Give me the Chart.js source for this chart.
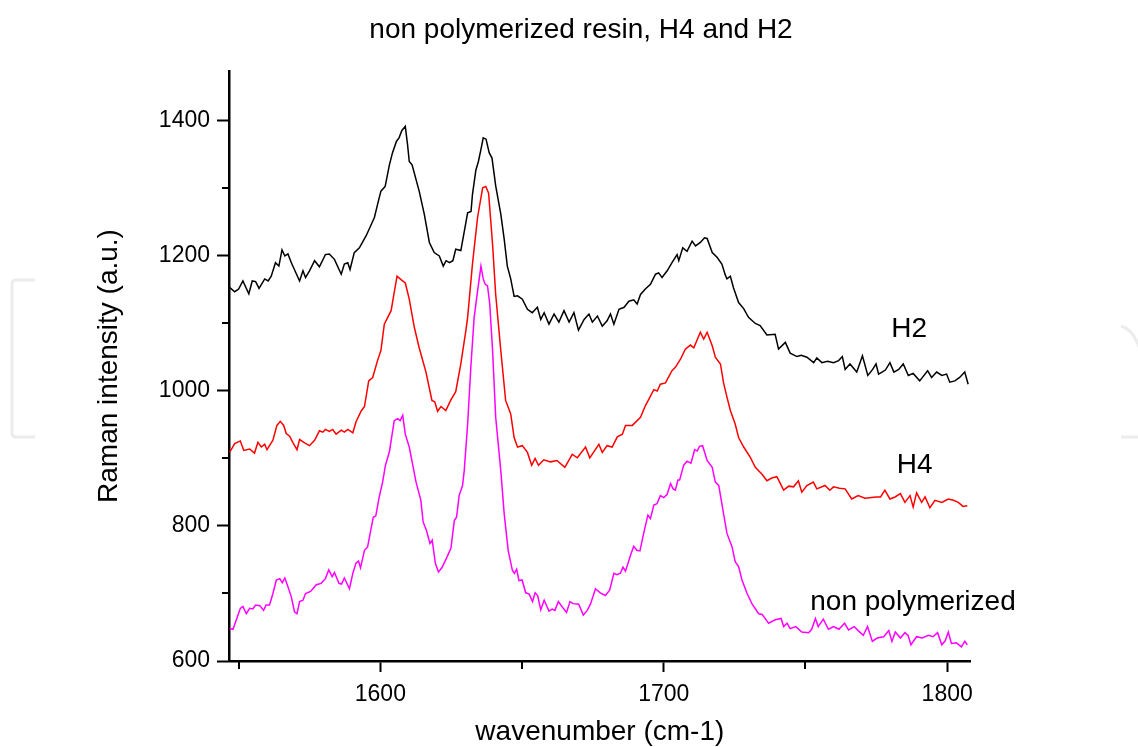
<!DOCTYPE html>
<html><head><meta charset="utf-8">
<script src="https://cdn.jsdelivr.net/npm/chart.js@4.4.1/dist/chart.umd.min.js"></script>
<style>html,body{margin:0;padding:0;background:#fff;}canvas{display:block;}</style>
</head><body>
<canvas id="c" width="1138" height="747"></canvas>
<script>
const chartTitle = 'non polymerized resin, H4 and H2';
const xAxisTitle = 'wavenumber (cm-1)';
const yAxisTitle = 'Raman intensity (a.u.)';
const seriesNames = ['H2', 'H4', 'non polymerized'];
const xMajorTicks = [1600, 1700, 1800];
const xMinorTicks = [1550, 1650, 1750];
const yMajorTicks = [600, 800, 1000, 1200, 1400];
const yMinorTicks = [700, 900, 1100, 1300];

// [wavenumber, intensity]
const h2Spectrum = [[1546.9,1153],[1548.6,1147],[1550,1151],[1551.5,1163],[1553.6,1144],[1554.8,1163],[1556,1162],[1557.2,1152],[1559.2,1166],[1560.4,1163],[1561.5,1170],[1563,1190],[1564.2,1185],[1565.3,1209],[1566.3,1200],[1567.4,1203],[1568.6,1190],[1571.5,1163],[1572.7,1178],[1573.6,1168],[1575,1178],[1576.8,1193],[1578.5,1184],[1580.6,1202],[1582,1203],[1583.8,1195],[1586.2,1173],[1587.3,1188],[1588.5,1190],[1589.3,1180],[1590.8,1205],[1592.6,1212],[1595,1230],[1597.9,1257],[1599,1276],[1600.2,1296],[1601.7,1303],[1603.2,1335],[1604.3,1353],[1605.7,1370],[1606.6,1375],[1607.6,1386],[1608.8,1392],[1609.6,1365],[1610.2,1340],[1611.2,1335],[1613.7,1296],[1615.5,1262],[1617.3,1220],[1619,1205],[1620.8,1200],[1622.2,1185],[1623.2,1193],[1624.4,1190],[1625.6,1193],[1626.6,1210],[1628.4,1208],[1630.8,1264],[1632,1266],[1632.5,1291],[1633.7,1327],[1634.6,1340],[1635.5,1358],[1636.3,1375],[1637.3,1373],[1638.4,1353],[1639.4,1345],[1640.7,1304],[1642.5,1262],[1643.7,1225],[1644.8,1185],[1646,1166],[1647.2,1140],[1648.4,1141],[1650.1,1136],[1651.9,1121],[1653.6,1116],[1655.4,1124],[1656.6,1106],[1657.8,1116],[1659.5,1099],[1661.3,1114],[1663,1102],[1664.8,1119],[1666.6,1102],[1668.3,1116],[1669.9,1090],[1671.9,1106],[1673.6,1114],[1674.8,1102],[1676.6,1111],[1678.3,1096],[1680,1104],[1681.2,1114],[1682.4,1099],[1684.2,1121],[1686,1124],[1687.7,1133],[1689.4,1135],[1690.6,1129],[1691.8,1143],[1693.5,1151],[1695.3,1158],[1697.1,1173],[1698.2,1175],[1699.4,1168],[1701.2,1178],[1702.9,1190],[1704.7,1202],[1705.3,1193],[1706.7,1212],[1708.2,1207],[1710,1222],[1711.2,1215],[1712.9,1220],[1714.4,1227],[1715.3,1226],[1717.1,1205],[1718.8,1198],[1720.5,1188],[1721.7,1172],[1722.3,1166],[1723.5,1170],[1724.6,1153],[1726.4,1131],[1728.2,1122],[1729.9,1109],[1732.3,1100],[1734,1097],[1736.4,1083],[1739.3,1084],[1740.5,1062],[1742.9,1072],[1744.6,1056],[1747,1051],[1748.5,1053],[1750.5,1050],[1752.9,1042],[1754,1049],[1755.8,1042],[1757.8,1044],[1759.9,1042],[1761.7,1045],[1763,1051],[1764,1032],[1765.7,1040],[1768.1,1028],[1770.1,1052],[1772,1023],[1773.7,1032],[1774.9,1040],[1775.8,1025],[1777,1028],[1778.2,1031],[1779.8,1042],[1781.2,1028],[1782.9,1032],[1784.5,1040],[1786.3,1023],[1788,1026],[1790.3,1015],[1793.1,1030],[1794.5,1020],[1796.3,1028],[1798.1,1023],[1799.8,1025],[1800.9,1013],[1802.7,1015],[1804.4,1020],[1806.2,1028],[1807.4,1010]];

const h4Spectrum = [[1546.8,909],[1548.6,922],[1550.6,926],[1551.8,912],[1553.9,914],[1555.6,908],[1556.8,924],[1558,917],[1559.2,921],[1560,913],[1562.1,927],[1563.5,949],[1564.7,955],[1565.9,949],[1566.8,937],[1568,933],[1569.1,924],[1570.6,913],[1571.5,928],[1573.3,923],[1575,919],[1576.8,927],[1578.5,941],[1579.7,939],[1580.6,943],[1582,940],[1583.2,943],[1584.4,936],[1586.2,942],[1587.3,939],[1588.5,943],[1590.3,938],[1591.4,954],[1593.2,970],[1594.4,977],[1595.9,1015],[1597.3,1020],[1599,1045],[1600.2,1060],[1601.4,1099],[1602.6,1109],[1603.8,1119],[1604.9,1146],[1605.9,1170],[1607.3,1165],[1608.8,1160],[1610.2,1136],[1612,1094],[1613.7,1064],[1616.1,1028],[1618.2,986],[1619.2,984],[1620.2,970],[1621.4,977],[1623.1,971],[1624.8,986],[1626.6,999],[1628.4,1040],[1630.2,1090],[1630.8,1109],[1632.5,1188],[1634.3,1257],[1636.1,1301],[1637.2,1303],[1638.2,1293],[1639.6,1217],[1640.7,1143],[1642.5,1060],[1644.2,986],[1646,966],[1647.2,931],[1648.4,917],[1650.1,919],[1651.9,909],[1653.4,890],[1654.6,900],[1655.8,890],[1657.7,898],[1660,895],[1662.3,897],[1665.1,887],[1667.7,906],[1669.5,901],[1672.4,917],[1673.9,901],[1677.1,921],[1678.3,909],[1680,919],[1681.8,917],[1683.6,932],[1685.4,936],[1686.5,949],[1688.9,949],[1691.8,961],[1693.5,978],[1696.5,1002],[1697.7,1000],[1698.8,1010],[1700.6,1012],[1702.9,1030],[1704.1,1035],[1705.9,1047],[1707.6,1062],[1709.4,1068],[1710.6,1064],[1712.9,1087],[1714.1,1077],[1715.3,1087],[1717.1,1067],[1718.2,1050],[1720,1040],[1721.1,1012],[1722.3,991],[1723.5,971],[1725.2,951],[1726.4,931],[1728.2,917],[1730.5,902],[1732.3,887],[1734.6,877],[1736.4,867],[1738.1,871],[1739.9,873],[1742.3,853],[1744.1,859],[1745.8,858],[1747.5,867],[1748.7,850],[1750.5,860],[1752.8,865],[1754,855],[1756.9,860],[1758.6,853],[1759.9,858],[1762,856],[1764,855],[1766.3,840],[1768.6,845],[1771,841],[1774.9,843],[1776.5,843],[1778,853],[1779.8,840],[1781.6,843],[1783.5,848],[1785.1,835],[1786.9,845],[1788,828],[1789.2,849],[1791,835],[1792.2,843],[1793.9,827],[1795.7,838],[1798.1,835],[1800.4,840],[1802.2,838],[1803.9,835],[1805.6,829],[1807.1,830]];

const nonPolymerizedSpectrum = [[1546.8,648],[1548,647],[1549.2,661],[1550.6,678],[1551.5,681],[1552.7,670],[1553.9,678],[1555,677],[1556,683],[1557.5,682],[1558.8,675],[1559.7,683],[1560.9,683],[1562.1,700],[1563.3,720],[1564.5,722],[1565.4,716],[1566.3,723],[1567.4,710],[1568.6,695],[1569.7,673],[1570.6,670],[1571.5,688],[1572.7,690],[1573.6,700],[1575.4,703],[1577.4,713],[1579.1,715],[1580.6,722],[1581.8,735],[1583,725],[1583.8,731],[1585.4,715],[1586.3,714],[1587.3,723],[1589.1,707],[1590.3,730],[1591.4,745],[1592.3,748],[1593,738],[1594.4,764],[1595.5,769],[1597.5,813],[1598.4,815],[1599.6,843],[1600.8,865],[1601.8,890],[1603.2,910],[1604.9,956],[1606.1,959],[1607,956],[1607.9,964],[1608.8,936],[1610.2,917],[1612.6,865],[1614.3,838],[1615.1,806],[1616.3,793],[1617.5,774],[1618.3,779],[1619.4,745],[1620.5,732],[1621.7,738],[1623.3,752],[1624.9,767],[1626.1,808],[1626.9,813],[1627.8,845],[1629,860],[1629.6,882],[1630.8,951],[1632,1040],[1633.1,1109],[1634.3,1148],[1635.5,1185],[1636.3,1166],[1637,1158],[1637.8,1156],[1638.6,1129],[1639.6,1060],[1640.7,961],[1642.5,882],[1643.7,818],[1645.1,764],[1646.6,734],[1647.3,730],[1648.1,736],[1648.9,719],[1650,720],[1651.3,701],[1652.5,699],[1653.7,688],[1654.6,701],[1655.5,697],[1656.6,676],[1657.8,690],[1659.5,674],[1660.6,677],[1661.6,675],[1662.8,688],[1664.2,680],[1665.7,672],[1666.9,688],[1668,685],[1670,684],[1671.6,668],[1673,675],[1674.2,685],[1675.9,707],[1677.6,701],[1679.4,697],[1680.9,705],[1682.4,730],[1683.5,728],[1684.7,730],[1685.6,739],[1686.5,733],[1688.3,757],[1689.4,770],[1690.5,764],[1691.6,763],[1693,791],[1694.4,816],[1695.3,811],[1696.5,831],[1697.6,833],[1698.8,845],[1700,842],[1701.2,847],[1702.4,863],[1703.3,855],[1704.1,853],[1705,868],[1705.6,868],[1707,890],[1708.2,896],[1709.6,893],[1710.9,913],[1711.8,911],[1712.6,918],[1713.7,919],[1715.3,897],[1717.1,887],[1718.2,865],[1719.4,860],[1720.5,833],[1721.1,818],[1722.3,789],[1724.1,769],[1725.2,747],[1726.4,740],[1727.6,720],[1729.4,700],[1731.1,685],[1733.5,670],[1734.7,669],[1737,656],[1739.3,661],[1741.4,663],[1742.3,651],[1743.5,656],[1744.6,648],[1746.6,651],[1748.7,643],[1751.1,642],[1752.2,647],[1753.5,663],[1754.5,651],[1756.3,662],[1758.1,647],[1759.9,651],[1761.8,647],[1763.8,656],[1765.2,646],[1767.2,651],[1768.6,645],[1770.4,638],[1771.9,651],[1773.6,629],[1775.3,634],[1777.6,636],[1779.4,645],[1780.5,629],[1781.7,643],[1783.5,634],[1785.1,642],[1786.2,638],[1787.2,624],[1789.2,636],[1791.2,634],[1793.4,638],[1795,636],[1796.6,642],[1798.1,624],[1799.3,630],[1800.4,643],[1801.5,626],[1803.2,627],[1805,621],[1806.2,629],[1807.1,624]];

const FONT = "'Liberation Sans', Arial, Helvetica, sans-serif";
const toPoints = arr => arr.map(p => ({x: p[0], y: p[1]}));

const decorPlugin = {
  id: 'decor',
  beforeDraw(chart) {
    const c = chart.ctx;
    c.save();
    c.fillStyle = '#ffffff';
    c.fillRect(0, 0, chart.width, chart.height);
    // faint page watermark brackets
    c.strokeStyle = '#ececec';
    c.lineWidth = 3;
    c.beginPath();
    c.moveTo(35, 280); c.lineTo(16, 280); c.quadraticCurveTo(12, 280, 12, 284);
    c.lineTo(12, 433); c.quadraticCurveTo(12, 437, 16, 437); c.lineTo(35, 437);
    c.stroke();
    c.beginPath();
    c.moveTo(1121, 326); c.quadraticCurveTo(1134, 330, 1140, 350);
    c.stroke();
    c.beginPath();
    c.moveTo(1121, 437); c.lineTo(1140, 437);
    c.stroke();
    c.restore();
  },
  afterDraw(chart, args, opts) {
    const c = chart.ctx;
    const xs = chart.scales.x, ys = chart.scales.y;
    const area = chart.chartArea;
    c.save();
    c.fillStyle = '#000';
    c.font = '28px ' + FONT;
    c.textAlign = 'center';
    c.textBaseline = 'alphabetic';
    c.fillText(chartTitle, opts.titleX, opts.titleBaseline);
    c.strokeStyle = '#000';
    c.lineWidth = 2;
    xMinorTicks.forEach(v => {
      const px = Math.round(xs.getPixelForValue(v));
      c.beginPath(); c.moveTo(px, area.bottom); c.lineTo(px, area.bottom + 8); c.stroke();
    });
    yMinorTicks.forEach(v => {
      const py = Math.round(ys.getPixelForValue(v));
      c.beginPath(); c.moveTo(area.left - 7, py); c.lineTo(area.left, py); c.stroke();
    });
    c.font = '28px ' + FONT;
    c.textAlign = 'left';
    opts.labels.forEach((lab, i) => {
      c.fillText(seriesNames[i], xs.getPixelForValue(lab[0]), ys.getPixelForValue(lab[1]));
    });
    c.restore();
  }
};

new Chart(document.getElementById('c').getContext('2d'), {
  type: 'line',
  data: {
    datasets: [
      {label: seriesNames[0], data: toPoints(h2Spectrum), borderColor: '#000000'},
      {label: seriesNames[1], data: toPoints(h4Spectrum), borderColor: '#ff0000'},
      {label: seriesNames[2], data: toPoints(nonPolymerizedSpectrum), borderColor: '#ff00ff'}
    ]
  },
  options: {
    responsive: false,
    animation: false,
    devicePixelRatio: 1,
    elements: {
      point: {radius: 0, hoverRadius: 0},
      line: {borderWidth: 1.5, tension: 0, fill: false}
    },
    layout: {padding: {left: 0, right: 167.3, top: 71, bottom: 0}},
    plugins: {
      legend: {display: false},
      tooltip: {enabled: false},
      title: {display: false},
      decor: {titleX: 581, titleBaseline: 38, labels: [[1780.3, 1080], [1782.2, 878], [1751.7, 675]]}
    },
    scales: {
      x: {
        type: 'linear', min: 1546.6, max: 1808.3,
        afterBuildTicks: s => { s.ticks = xMajorTicks.map(v => ({value: v})); },
        afterFit: s => { s.height = 86; },
        grid: {drawOnChartArea: false, drawTicks: true, tickLength: 11, tickWidth: 2, tickColor: '#000'},
        border: {display: true, color: '#000', width: 2.5},
        ticks: {color: '#000', font: {family: FONT, size: 23}, padding: 9, autoSkip: false, maxRotation: 0, callback: v => String(v)},
        title: {display: true, text: xAxisTitle, color: '#000', font: {family: FONT, size: 28}, padding: {top: 0, bottom: -2}}
      },
      y: {
        type: 'linear', min: 600, max: 1474,
        afterBuildTicks: s => { s.ticks = yMajorTicks.map(v => ({value: v})); },
        afterFit: s => { s.width = 229; },
        grid: {drawOnChartArea: false, drawTicks: true, tickLength: 12, tickWidth: 2, tickColor: '#000'},
        border: {display: true, color: '#000', width: 2.5},
        ticks: {color: '#000', font: {family: FONT, size: 23}, padding: 7, callback: v => String(v)},
        title: {display: true, text: yAxisTitle, color: '#000', font: {family: FONT, size: 28}, padding: {top: 92, bottom: 0}}
      }
    }
  },
  plugins: [decorPlugin]
});
</script>
</body></html>
